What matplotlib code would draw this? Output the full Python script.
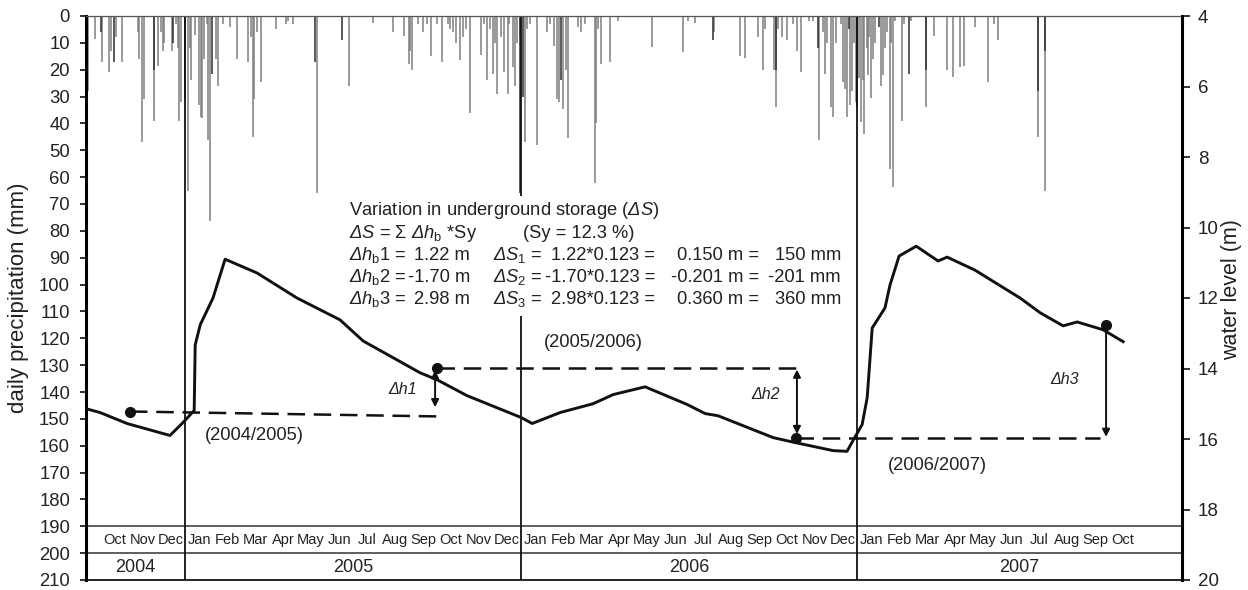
import numpy as np
import matplotlib.pyplot as plt
from matplotlib.patches import Rectangle

plt.rcParams['font.family'] = ['Liberation Sans', 'DejaVu Sans']
plt.rcParams['mathtext.fontset'] = 'custom'
plt.rcParams['mathtext.rm'] = 'Liberation Sans:italic'
plt.rcParams['mathtext.it'] = 'Liberation Sans:italic'
plt.rcParams['mathtext.sf'] = 'Liberation Sans'

W, H = 1248, 590
TXT = '#222222'

# daily precipitation (mm), day counted from 15 Sep 2004
rain_day = [2, 10, 17, 25, 27, 33, 39, 56, 58, 61, 63, 74, 78, 81, 84, 85, 93, 98, 100, 101,
            103, 108, 111, 113, 114, 118, 123, 125, 126, 128, 131, 133, 135, 141, 143, 149, 156,
            164, 176, 179, 181, 182, 186, 190,
            206, 217, 219, 225, 251, 286, 312, 334, 345, 351, 352, 354, 361, 366, 370, 375, 381,
            387, 393,
            395, 399, 402, 406, 410, 413, 417, 429, 432, 436, 439, 442, 444, 447, 451, 454, 458,
            460, 464, 466, 468, 471, 477, 479, 482, 490, 501, 504, 508, 512, 514, 518, 521, 524,
            534, 538, 542, 553, 554, 556, 560, 569, 578,
            615, 649, 654, 662, 682, 710, 716, 730, 735, 738, 747, 750, 752, 756, 761, 768, 772,
            777, 785, 790,
            796, 801, 803, 805, 809, 812, 815, 820, 822, 824, 827, 830, 832, 834, 836, 840, 842,
            844, 845, 848, 850, 851, 853, 855, 857, 864, 866, 868, 870, 873, 875, 877, 879, 886,
            889, 896, 913, 921, 935, 942, 949, 954, 966, 980, 986, 991, 1034, 1042]
rain_mm = [28, 8.5, 17, 21, 13, 8, 17, 6, 16, 47, 31, 39, 18.5, 6, 13, 10, 13, 3, 12, 39,
           32, 31, 65, 12, 24, 7, 33, 37.5, 38, 16, 3, 46, 76.5, 16, 26, 3, 4,
           16, 17, 8, 45, 31, 6, 24.5,
           5, 3, 2, 3, 66, 26, 2.5, 6, 7.5, 18, 13, 20, 3, 6, 3, 15, 3,
           17, 3,
           5, 6, 10, 16.5, 8, 5, 36, 14.5, 3, 24, 5, 21.5, 10, 29, 8, 21, 29,
           3, 19, 26, 10, 8, 47, 5, 3, 48, 6, 3, 11, 31, 32, 34.5, 20, 45.6,
           4, 6, 3, 62, 40, 5, 18, 17, 2,
           11.5, 13.5, 2, 2.5, 6, 15, 15.5, 8, 20, 5, 20, 34, 5, 8, 9, 3, 13,
           21, 2, 2,
           46, 6, 21.5, 10, 34, 37.6, 10, 3, 24.6, 27, 37.6, 33, 28, 10, 32, 23, 39.5,
           24, 44, 12, 22, 8, 30.6, 16, 10, 26, 22, 12, 6, 57, 10, 63.6, 2, 39,
           3, 2, 34, 7.5, 20, 22.6, 19, 18.5, 4, 24.6, 3, 9, 45, 65]
# darker second record plotted over the grey one
dark_day = [16, 30, 74, 95, 108, 137, 249, 278, 472, 475, 516, 681, 750, 795, 829, 838,
            861, 894, 913, 1034, 1042]
dark_mm = [6, 17, 20, 10, 31, 21.5, 17, 9, 66, 30, 24, 9, 20, 12, 5, 34,
           4, 21.5, 20, 28, 13]

# water level (m) against decimal year
wl_t = [2004.705, 2004.747, 2004.827, 2004.955, 2004.994, 2005.027, 2005.030, 2005.045,
        2005.083, 2005.119, 2005.214, 2005.333, 2005.461, 2005.530, 2005.699, 2005.750,
        2005.839, 2006.000, 2006.033, 2006.116, 2006.214, 2006.274, 2006.369, 2006.494,
        2006.548, 2006.586, 2006.750, 2006.815, 2006.929, 2006.970, 2006.988, 2007.015,
        2007.030, 2007.045, 2007.083, 2007.098, 2007.125, 2007.176, 2007.241, 2007.268,
        2007.351, 2007.485, 2007.545, 2007.613, 2007.655, 2007.732, 2007.792]
wl_m = [15.14, 15.25, 15.56, 15.90, 15.53, 15.19, 13.33, 12.76,
        12.00, 10.90, 11.29, 12.00, 12.62, 13.22, 14.12, 14.32,
        14.77, 15.39, 15.56, 15.25, 15.00, 14.74, 14.52, 15.02,
        15.28, 15.34, 15.96, 16.10, 16.33, 16.35, 16.04, 15.59,
        14.83, 12.85, 12.28, 11.63, 10.81, 10.53, 10.95, 10.84,
        11.21, 12.00, 12.42, 12.79, 12.68, 12.90, 13.24]

# reference points and dashed base lines for the three hydrological years
ref_t = [2004.836, 2005.750, 2006.818, 2007.741]
ref_m = [15.22, 13.98, 15.96, 12.76]
dash_t0 = [2004.836, 2005.750, 2006.818]
dash_t1 = [2005.753, 2006.821, 2007.723]
dash_m0 = [15.22, 13.98, 15.96]
dash_m1 = [15.36, 13.98, 15.96]
periods = ['(2004/2005)', '(2005/2006)', '(2006/2007)']
period_t = [2005.207, 2006.214, 2007.240]
period_m = [15.90, 13.27, 16.75]

arrow_t = [2005.744, 2006.821, 2007.741]
arrow_top = [14.05, 14.03, 12.80]
arrow_bot = [15.10, 15.86, 15.94]
arrow_style = ['<|-|>', '<|-|>', '-|>']
dh_names = ['\u0394h1', '\u0394h2', '\u0394h3']
dh_label_t = [2005.646, 2006.729, 2007.616]
dh_label_m = [14.60, 14.74, 14.32]

dh_vals = [1.22, -1.70, 2.98]
ds_vals = [0.150, -0.201, 0.360]
sy = 0.123

month_names = ['Jan', 'Feb', 'Mar', 'Apr', 'May', 'Jun',
               'Jul', 'Aug', 'Sep', 'Oct', 'Nov', 'Dec']
years = [2004, 2005, 2006, 2007]
first_month = (2004, 10)
last_month = (2007, 10)

start = 2004.705
end = 2007.967

fig = plt.figure(figsize=(W / 100, H / 100), dpi=100)
ax = fig.add_axes([86 / W, 1 - 580 / H, (1182 - 86) / W, (580 - 16) / H])

# precipitation bars hanging from the top
ax.vlines(start + np.array(rain_day) / 365, 0, rain_mm, color='#7f7f7f', lw=1.1, zorder=1)
ax.vlines(start + np.array(dark_day) / 365, 0, dark_mm, color='#2e2e2e', lw=1.1, zorder=1.2)

ax.set_xlim(start, end)
ax.set_ylim(210, 0)
ax.set_yticks(np.arange(0, 211, 10))
ax.set_xticks([])
ax.tick_params(axis='y', direction='out', length=4.5, width=1.3, labelsize=13.3,
               pad=7, colors=TXT)
ax.spines['left'].set_linewidth(2.2)
ax.spines['top'].set_linewidth(0.9)
ax.spines['top'].set_color('#555555')
ax.spines['bottom'].set_linewidth(1.2)
ax.spines['right'].set_visible(False)

# table at the bottom: months row and years row
ax.axhline(190, color='#333333', lw=1.1, zorder=2)
ax.axhline(200, color='#333333', lw=1.1, zorder=2)
for yr in years[1:]:
    ax.axvline(yr, color='#111111', lw=1.3, zorder=2)

for yr in years:
    for m in range(1, 13):
        if (yr, m) < first_month or (yr, m) > last_month:
            continue
        ax.text(yr + (m - 0.5) / 12, 195.2, month_names[m - 1], ha='center', va='center',
                fontsize=10.5, color=TXT)

edges = [start] + years[1:] + [end]
for i, yr in enumerate(years):
    ax.text((edges[i] + edges[i + 1]) / 2, 205.3, str(yr), ha='center', va='center',
            fontsize=13, color=TXT)

# water level on the right axis
ax2 = ax.twinx()
ax2.set_ylim(20, 4)
ax2.set_yticks(np.arange(4, 21, 2))
ax2.tick_params(axis='y', direction='out', length=5.5, width=1.3, labelsize=13.5,
                pad=6, colors=TXT)
for s in ['left', 'top', 'bottom']:
    ax2.spines[s].set_visible(False)
ax2.spines['right'].set_linewidth(2.2)

ax2.plot(wl_t, wl_m, color='#111111', lw=2.1, zorder=3)
ax2.plot(ref_t, ref_m, 'o', color='#111111', ms=7, zorder=4)
for i in range(3):
    ax2.plot([dash_t0[i], dash_t1[i]], [dash_m0[i], dash_m1[i]], color='#111111',
             lw=1.8, linestyle=(0, (7, 3.5)), zorder=3)
    ax2.annotate('', xy=(arrow_t[i], arrow_bot[i]), xytext=(arrow_t[i], arrow_top[i]),
                 arrowprops=dict(arrowstyle=arrow_style[i], color='#111111', lw=1.4,
                                 mutation_scale=11, shrinkA=0, shrinkB=0), zorder=4)
    ax2.text(dh_label_t[i], dh_label_m[i], dh_names[i], ha='center', va='center',
             fontsize=11.5, fontstyle='italic', color=TXT)
    ax2.text(period_t[i], period_m[i], periods[i], ha='center', va='center',
             fontsize=13.2, color=TXT)

fig.text(19 / W, 1 - 298 / H, 'daily precipitation (mm)', rotation=90, ha='center',
         va='center', fontsize=16, color=TXT)
fig.text(1232 / W, 1 - 290 / H, 'water level (m)', rotation=90, ha='center',
         va='center', fontsize=15.5, color=TXT)

# storage calculation box
fig.add_artist(Rectangle((345 / W, 1 - 316 / H), (850 - 345) / W, (316 - 196) / H,
                         transform=fig.transFigure, facecolor='white', edgecolor='none',
                         zorder=2))


def ftext(x, y, s, ha='left'):
    fig.text(x / W, 1 - y / H, s, ha=ha, va='baseline', fontsize=13.2, color=TXT, zorder=3)


ftext(349, 215, 'Variation in underground storage ($\u0394S$)')
ftext(349, 238, '$\u0394S$ = \u03a3 $\u0394h_\\mathsf{b}$ *Sy')
ftext(523, 238, '(Sy = %.1f %%)' % (sy * 100))
for i in range(3):
    yb = 260 + 22 * i
    ftext(349, yb, '$\u0394h_\\mathsf{b}$%d =' % (i + 1))
    ftext(470, yb, '%.2f m' % dh_vals[i], ha='right')
    ftext(493, yb, '$\u0394S_\\mathsf{%d}$ =' % (i + 1))
    ftext(655, yb, '%.2f*%.3f =' % (dh_vals[i], sy), ha='right')
    ftext(759, yb, '%.3f m =' % ds_vals[i], ha='right')
    ftext(841, yb, '%d mm' % round(ds_vals[i] * 1000), ha='right')

fig.savefig('out.png', dpi=100)
